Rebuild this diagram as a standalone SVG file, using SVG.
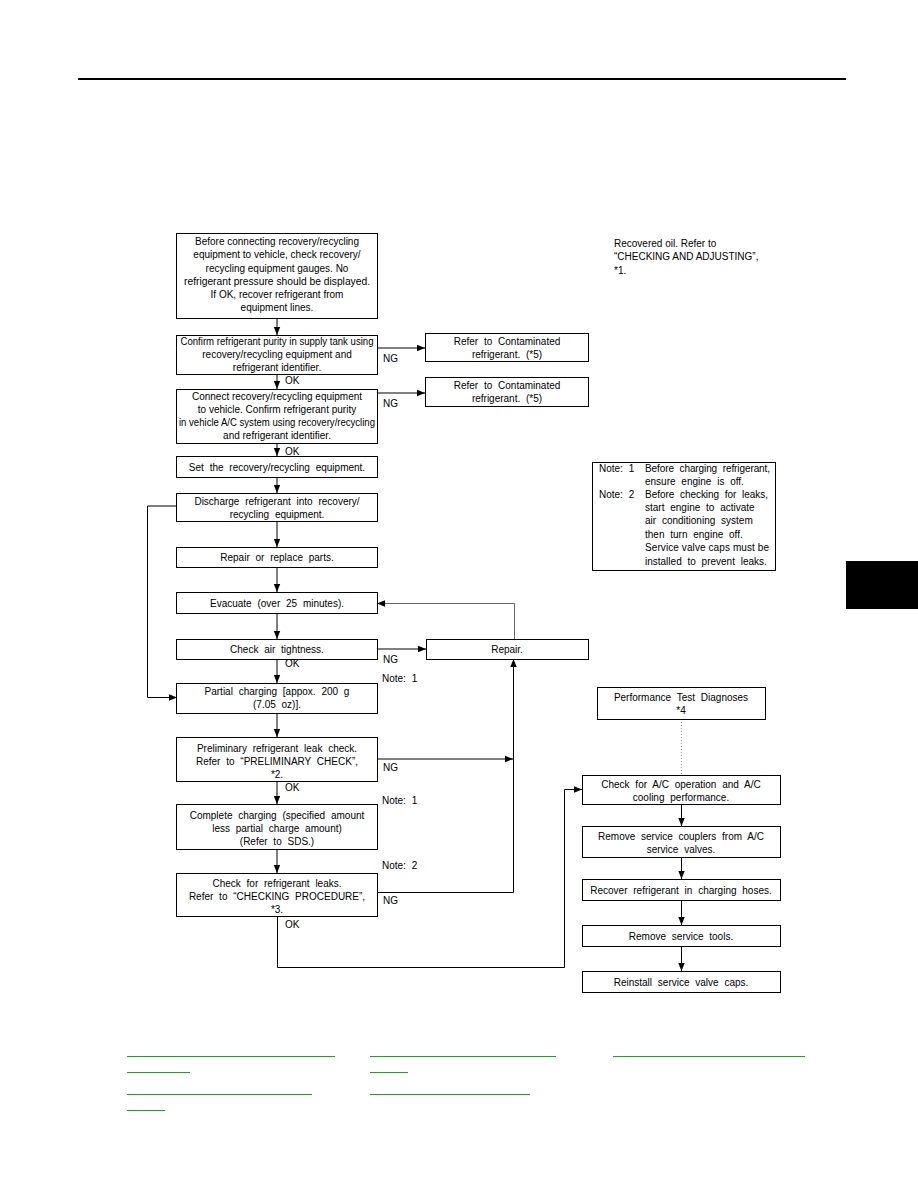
<svg xmlns="http://www.w3.org/2000/svg" width="918" height="1188" viewBox="0 0 918 1188">
<style>
text{font-family:"Liberation Sans",Arial,sans-serif;font-size:10px;fill:#000}
.c{text-anchor:middle}
.w{word-spacing:3px}
.box{fill:#fff;stroke:#000;stroke-width:1}
.ln{fill:none;stroke:#000;stroke-width:1}
.gr{fill:none;stroke:#666;stroke-width:1}
.dot{fill:none;stroke:#999;stroke-width:1;stroke-dasharray:1,2}
.lk{stroke:#1fa31f;stroke-width:1}
</style>
<defs>
<marker id="ah" viewBox="0 0 8 8" refX="8" refY="4" markerWidth="8" markerHeight="8" markerUnits="userSpaceOnUse" orient="auto">
<path d="M0,0.8 L8,4 L0,7.2 Z" fill="#000"/>
</marker>
</defs>
<rect width="918" height="1188" fill="#fff"/>
<line x1="78" y1="79" x2="846" y2="79" stroke="#000" stroke-width="2"/>
<rect x="846" y="561" width="72" height="48" fill="#000"/>

<g id="connectors">
<line class="ln" x1="277" y1="318" x2="277" y2="335" marker-end="url(#ah)"/>
<line class="ln" x1="277" y1="374" x2="277" y2="389" marker-end="url(#ah)"/>
<line class="ln" x1="277" y1="443" x2="277" y2="456" marker-end="url(#ah)"/>
<line class="ln" x1="277" y1="477" x2="277" y2="493" marker-end="url(#ah)"/>
<line class="ln" x1="277" y1="522" x2="277" y2="547" marker-end="url(#ah)"/>
<line class="ln" x1="277" y1="567" x2="277" y2="592" marker-end="url(#ah)"/>
<line class="ln" x1="277" y1="613" x2="277" y2="639" marker-end="url(#ah)"/>
<line class="ln" x1="277" y1="659" x2="277" y2="683" marker-end="url(#ah)"/>
<line class="ln" x1="277" y1="713" x2="277" y2="737" marker-end="url(#ah)"/>
<line class="ln" x1="277" y1="781" x2="277" y2="804" marker-end="url(#ah)"/>
<line class="ln" x1="277" y1="849" x2="277" y2="873" marker-end="url(#ah)"/>
<line class="ln" x1="377" y1="348" x2="425" y2="348" marker-end="url(#ah)"/>
<line class="ln" x1="377" y1="393" x2="425" y2="393" marker-end="url(#ah)"/>
<line class="ln" x1="377" y1="649" x2="426" y2="649" marker-end="url(#ah)"/>
<polyline class="ln" points="177,506 147.5,506 147.5,697.5 177,697.5" marker-end="url(#ah)"/>
<polyline class="gr" points="514.5,639 514.5,603.5 377,603.5" marker-end="url(#ah)"/>
<line class="ln" x1="377" y1="759" x2="513" y2="759" marker-end="url(#ah)"/>
<polyline class="ln" points="377,892.5 513.5,892.5 513.5,659" marker-end="url(#ah)"/>
<polyline class="ln" points="277.5,916 277.5,967.5 564.5,967.5 564.5,789.5 582,789.5" marker-end="url(#ah)"/>
<line class="dot" x1="681.5" y1="719" x2="681.5" y2="775"/>
<line class="ln" x1="681.5" y1="804" x2="681.5" y2="826" marker-end="url(#ah)"/>
<line class="ln" x1="681.5" y1="858" x2="681.5" y2="879" marker-end="url(#ah)"/>
<line class="ln" x1="681.5" y1="900" x2="681.5" y2="925" marker-end="url(#ah)"/>
<line class="ln" x1="681.5" y1="946" x2="681.5" y2="971" marker-end="url(#ah)"/>
</g>

<g id="labels">
<text x="383" y="362">NG</text>
<text x="285" y="384">OK</text>
<text x="383" y="407">NG</text>
<text x="285" y="455">OK</text>
<text x="383" y="663">NG</text>
<text x="285" y="667">OK</text>
<text x="382" y="682" class="w">Note: 1</text>
<text x="383" y="771">NG</text>
<text x="285" y="791">OK</text>
<text x="382" y="804" class="w">Note: 1</text>
<text x="382" y="869" class="w">Note: 2</text>
<text x="383" y="904">NG</text>
<text x="285" y="928">OK</text>
</g>

<g id="n1">
<rect class="box" x="176.5" y="233.5" width="201" height="85"/>
<text class="c" x="277" y="245">Before connecting recovery/recycling</text>
<text class="c" x="277" y="258">equipment to vehicle, check recovery/</text>
<text class="c" x="277" y="272">recycling equipment gauges. No</text>
<text class="c" x="277" y="285" textLength="186" lengthAdjust="spacingAndGlyphs">refrigerant pressure should be displayed.</text>
<text class="c" x="277" y="298">If OK, recover refrigerant from</text>
<text class="c" x="277" y="311">equipment lines.</text>
</g>
<g id="n2">
<rect class="box" x="176.5" y="335.5" width="201" height="39"/>
<text class="c" x="277" y="345" textLength="193" lengthAdjust="spacingAndGlyphs">Confirm refrigerant purity in supply tank using</text>
<text class="c" x="277" y="358">recovery/recycling equipment and</text>
<text class="c" x="277" y="371">refrigerant identifier.</text>
</g>
<g id="n2ng">
<rect class="box" x="425.5" y="333.5" width="163" height="28"/>
<text class="c w" x="507" y="345">Refer to Contaminated</text>
<text class="c w" x="507" y="358">refrigerant. (*5)</text>
</g>
<g id="n3">
<rect class="box" x="176.5" y="389.5" width="201" height="54"/>
<text class="c" x="277" y="400">Connect recovery/recycling equipment</text>
<text class="c" x="277" y="413">to vehicle. Confirm refrigerant purity</text>
<text class="c" x="277" y="426" textLength="196" lengthAdjust="spacingAndGlyphs">in vehicle A/C system using recovery/recycling</text>
<text class="c" x="277" y="439">and refrigerant identifier.</text>
</g>
<g id="n3ng">
<rect class="box" x="425.5" y="377.5" width="163" height="29"/>
<text class="c w" x="507" y="389">Refer to Contaminated</text>
<text class="c w" x="507" y="402">refrigerant. (*5)</text>
</g>
<g id="n4">
<rect class="box" x="176.5" y="456.5" width="201" height="21"/>
<text class="c w" x="277" y="471">Set the recovery/recycling equipment.</text>
</g>
<g id="n5">
<rect class="box" x="176.5" y="493.5" width="201" height="28"/>
<text class="c w" x="277" y="505">Discharge refrigerant into recovery/</text>
<text class="c w" x="277" y="518">recycling equipment.</text>
</g>
<g id="n6">
<rect class="box" x="176.5" y="547.5" width="201" height="20"/>
<text class="c w" x="277" y="561">Repair or replace parts.</text>
</g>
<g id="n7">
<rect class="box" x="176.5" y="592.5" width="201" height="21"/>
<text class="c w" x="277" y="607">Evacuate (over 25 minutes).</text>
</g>
<g id="n8">
<rect class="box" x="176.5" y="639.5" width="201" height="20"/>
<text class="c w" x="277" y="653">Check air tightness.</text>
</g>
<g id="repair">
<rect class="box" x="426.5" y="639.5" width="162" height="20"/>
<text class="c" x="507" y="653">Repair.</text>
</g>
<g id="n9">
<rect class="box" x="176.5" y="683.5" width="201" height="30"/>
<text class="c w" x="277" y="695">Partial charging [appox. 200 g</text>
<text class="c w" x="277" y="708">(7.05 oz)].</text>
</g>
<g id="n10">
<rect class="box" x="176.5" y="737.5" width="201" height="44"/>
<text class="c w" x="277" y="752">Preliminary refrigerant leak check.</text>
<text class="c w" x="277" y="765">Refer to “PRELIMINARY CHECK”,</text>
<text class="c" x="277" y="778">*2.</text>
</g>
<g id="n11">
<rect class="box" x="176.5" y="804.5" width="201" height="45"/>
<text class="c w" x="277" y="819">Complete charging (specified amount</text>
<text class="c w" x="277" y="832">less partial charge amount)</text>
<text class="c w" x="277" y="845">(Refer to SDS.)</text>
</g>
<g id="n12">
<rect class="box" x="176.5" y="873.5" width="201" height="43"/>
<text class="c w" x="277" y="887">Check for refrigerant leaks.</text>
<text class="c w" x="277" y="900">Refer to “CHECKING PROCEDURE”,</text>
<text class="c" x="277" y="913">*3.</text>
</g>

<g id="oil">
<text x="614" y="247">Recovered oil. Refer to</text>
<text x="614" y="260">“CHECKING AND ADJUSTING”,</text>
<text x="614" y="274">*1.</text>
</g>
<g id="notes">
<rect class="box" x="592.5" y="462.5" width="183" height="108"/>
<text class="w" x="599" y="472">Note: 1</text>
<text class="w" x="645" y="472" textLength="125" lengthAdjust="spacing">Before charging refrigerant,</text>
<text class="w" x="645" y="485">ensure engine is off.</text>
<text class="w" x="599" y="498">Note: 2</text>
<text class="w" x="645" y="498" textLength="123" lengthAdjust="spacing">Before checking for leaks,</text>
<text class="w" x="645" y="511">start engine to activate</text>
<text class="w" x="645" y="524">air conditioning system</text>
<text class="w" x="645" y="538">then turn engine off.</text>
<text x="645" y="551" textLength="124" lengthAdjust="spacing">Service valve caps must be</text>
<text class="w" x="645" y="565">installed to prevent leaks.</text>
</g>
<g id="perf">
<rect class="box" x="597.5" y="687.5" width="168" height="32"/>
<text class="c w" x="681" y="701">Performance Test Diagnoses</text>
<text class="c" x="681" y="714">*4</text>
</g>
<g id="r1">
<rect class="box" x="582.5" y="775.5" width="198" height="29"/>
<text class="c w" x="681" y="788">Check for A/C operation and A/C</text>
<text class="c w" x="681" y="801">cooling performance.</text>
</g>
<g id="r2">
<rect class="box" x="582.5" y="826.5" width="198" height="31"/>
<text class="c w" x="681" y="840">Remove service couplers from A/C</text>
<text class="c w" x="681" y="853">service valves.</text>
</g>
<g id="r3">
<rect class="box" x="582.5" y="879.5" width="198" height="21"/>
<text class="c w" x="681" y="894">Recover refrigerant in charging hoses.</text>
</g>
<g id="r4">
<rect class="box" x="582.5" y="925.5" width="198" height="21"/>
<text class="c w" x="681" y="940">Remove service tools.</text>
</g>
<g id="r5">
<rect class="box" x="582.5" y="971.5" width="198" height="21"/>
<text class="c w" x="681" y="986">Reinstall service valve caps.</text>
</g>

<g id="footer">
<line class="lk" x1="127" y1="1056.5" x2="335" y2="1056.5"/>
<line class="lk" x1="370" y1="1056.5" x2="556" y2="1056.5"/>
<line class="lk" x1="613" y1="1056.5" x2="805" y2="1056.5"/>
<line class="lk" x1="127" y1="1072.5" x2="190" y2="1072.5"/>
<line class="lk" x1="370" y1="1072.5" x2="408" y2="1072.5"/>
<line class="lk" x1="127" y1="1094.5" x2="312" y2="1094.5"/>
<line class="lk" x1="370" y1="1094.5" x2="530" y2="1094.5"/>
<line class="lk" x1="127" y1="1110.5" x2="165" y2="1110.5"/>
</g>
</svg>
